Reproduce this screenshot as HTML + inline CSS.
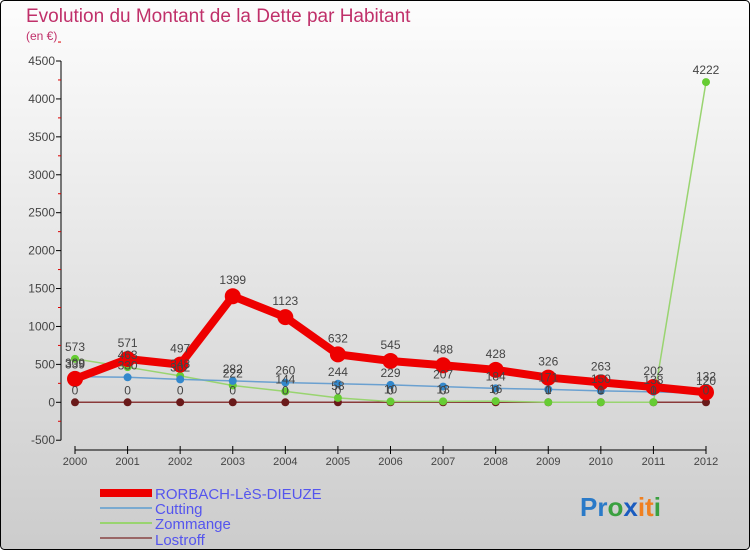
<!DOCTYPE html>
<html><head><meta charset="utf-8"><style>
body{margin:0;width:750px;height:550px;overflow:hidden;font-family:"Liberation Sans",sans-serif}
</style></head><body>
<svg id="c" width="750" height="550" xmlns="http://www.w3.org/2000/svg">
<defs><linearGradient id="bg" x1="0" y1="0" x2="0" y2="1"><stop offset="0" stop-color="#fdfdfd"/><stop offset="1" stop-color="#cccccc"/></linearGradient></defs>
<rect x="0.5" y="0.5" width="749" height="549" rx="4" fill="url(#bg)" stroke="#000"/>
<text x="26" y="22" font-size="19" fill="#c0306a">Evolution du Montant de la Dette par Habitant</text>
<text x="26" y="40" font-size="12" fill="#c0306a">(en €)</text>
<g id="axes"></g><g id="plot"></g>
<g font-size="15" fill="#5555ee">
<rect x="100" y="489" width="52" height="8" fill="#ee0000"/><text x="155" y="499">RORBACH-LèS-DIEUZE</text>
<line x1="100" y1="508" x2="152" y2="508" stroke="#7aaad0" stroke-width="2"/><text x="155" y="514">Cutting</text>
<line x1="100" y1="523" x2="152" y2="523" stroke="#99d470" stroke-width="2"/><text x="155" y="529">Zommange</text>
<line x1="100" y1="538" x2="152" y2="538" stroke="#996666" stroke-width="2"/><text x="155" y="545">Lostroff</text>
</g>
<text x="580" y="516" font-size="26" font-weight="bold"><tspan fill="#2a7ac8">Pr</tspan><tspan fill="#3aa040">o</tspan><tspan fill="#1a5cc0">x</tspan><tspan fill="#f08020">it</tspan><tspan fill="#3aa040">i</tspan></text>
</svg>
<script>
const years=["2000","2001","2002","2003","2004","2005","2006","2007","2008","2009","2010","2011","2012"];
const rorbach=[309,571,497,1399,1123,632,545,488,428,326,263,202,132];
const cutting=[339,330,302,282,260,244,229,207,184,171,150,138,120];
const zommange=[573,463,348,222,144,58,10,13,16,1,1,1,4222];
const lostroff=[0,0,0,0,0,0,0,0,0,0,0,0,0];
const yTicks=[-500,0,500,1000,1500,2000,2500,3000,3500,4000,4500];
const NS="http://www.w3.org/2000/svg";
const x=i=>75+i*(706-75)/12;
const y=v=>402.3-v*(341.3/4500);
function mk(t,a,p){const e=document.createElementNS(NS,t);for(const k in a)e.setAttribute(k,a[k]);p.appendChild(e);return e;}
const ax=document.getElementById('axes'),pl=document.getElementById('plot');
mk('line',{x1:61,y1:y(4500),x2:61,y2:y(-500),stroke:'#000'},ax);
mk('line',{x1:75,y1:450,x2:706,y2:450,stroke:'#000'},ax);
yTicks.forEach(v=>{
 const t=mk('line',{x1:56,y1:y(v),x2:61,y2:y(v),stroke:'#000'},ax);
 
 
 const m=mk('line',{x1:58,y1:y(v+250),x2:61,y2:y(v+250),stroke:'#d00'},ax);
 
 
 const l=mk('text',{x:55,y:y(v)+4,'font-size':12,fill:'#444','text-anchor':'end'},ax);
 l.textContent=v;
 
 
});
years.forEach((yr,i)=>{
 mk('line',{x1:x(i),y1:446,x2:x(i),y2:454,stroke:'#000'},ax);
 const l=mk('text',{x:x(i),y:465,'font-size':11,fill:'#444','text-anchor':'middle'},ax);
 l.textContent=yr;
 
 
});
const series=[
 {name:'lostroff',d:lostroff,c:'#8a3a3a',pc:'#6a1a1a',w:1.5,r:4},
 {name:'zommange',d:zommange,c:'#99d470',pc:'#66cc33',w:1.5,r:4},
 {name:'cutting',d:cutting,c:'#6aa0d0',pc:'#3388cc',w:1.5,r:4},
 {name:'rorbach',d:rorbach,c:'#ee0000',pc:'#ee0000',w:8,r:8}];
series.forEach(s=>{
 const p=mk('polyline',{points:s.d.map((v,i)=>x(i)+','+y(v)).join(' '),fill:'none',stroke:s.c,'stroke-width':s.w,'stroke-linejoin':'round'},pl);
 
 
 s.d.forEach((v,i)=>{
  const c=mk('circle',{cx:x(i),cy:y(v),r:s.r,fill:s.pc},pl);
  
  
 });
});
series.forEach(s=>{
 s.d.forEach((v,i)=>{
  const t=mk('text',{x:x(i),y:y(v)-(s.r+4),'font-size':12,fill:'#444','text-anchor':'middle'},pl);
  t.textContent=v;
  
  
 });
});
</script>
</body></html>
